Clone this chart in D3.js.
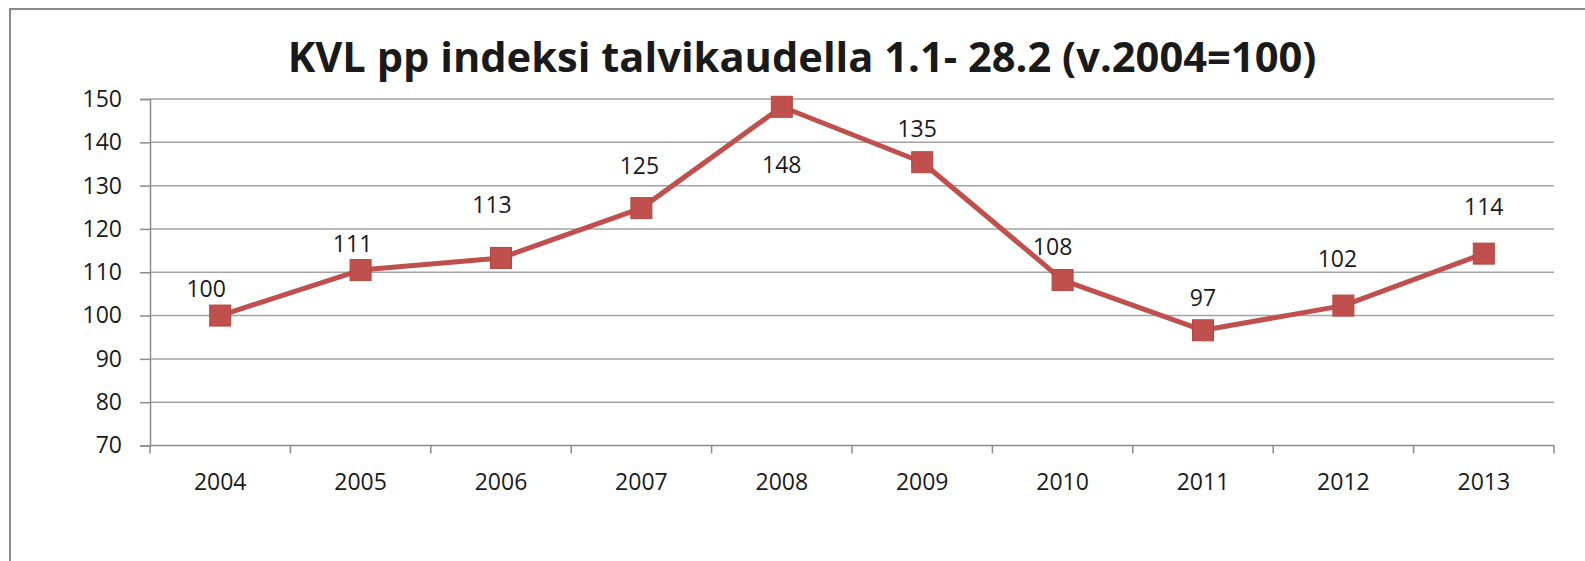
<!DOCTYPE html>
<meta charset="utf-8">
<style>
html,body{
  margin:0;
  background:#fff;
}
svg text{
  font-family:"Open Sans", sans-serif;
  fill:#1a1a1a;
}
.grid line{
  stroke:#a3a3a3;
  stroke-width:1.5px;
}
.axis line, .axis path{
  stroke:#8c8c8c;
  stroke-width:1.5px;
}
</style>
<script src="https://d3js.org/d3.v7.min.js"></script>
<body>
<script>

var years = ["2004","2005","2006","2007","2008","2009","2010","2011","2012","2013"];
var indexValues = [100, 110.5, 113.3, 124.8, 148.2, 135.4, 108.2, 96.6, 102.3, 114.3];
var valueLabels = ["100","111","113","125","148","135","108","97","102","114"];
var yTicks = [70, 80, 90, 100, 110, 120, 130, 140, 150];
// where each data label sits relative to its marker (hand placed in the original)
var labelDx = [-14, -8, -9, -2, 0, -5, -10, 0, -6, 0];
var labelDy = [-27, -26, -53, -42, 58, -33, -33, -32, -47, -47];
var title = "KVL pp indeksi talvikaudella 1.1- 28.2 (v.2004=100)";

var width = 1585, height = 561;

var svg = d3.select("body").append("svg")
    .attr("width", width)
    .attr("height", height);

// chart frame, runs off the right and bottom edges
svg.append("rect")
    .attr("x", 10).attr("y", 9)
    .attr("width", width + 20).attr("height", height + 20)
    .attr("fill", "#fff")
    .attr("stroke", "#8a8a8a")
    .attr("stroke-width", 2);

var x = d3.scaleBand()
    .domain(years)
    .range([150, 1554])
    .padding(0);

var y = d3.scaleLinear()
    .domain([70, 150])
    .range([445.5, 99]);

// horizontal gridlines
svg.append("g")
    .attr("class", "grid")
    .selectAll("line")
    .data(yTicks.filter(function(d){ return d > 70; }))
    .enter().append("line")
    .attr("x1", 150).attr("x2", 1554)
    .attr("y1", function(d){ return y(d); })
    .attr("y2", function(d){ return y(d); });

// y axis
var yAxis = svg.append("g")
    .attr("class", "axis")
    .attr("transform", "translate(150,0)")
    .call(d3.axisLeft(y).tickValues(yTicks).tickSize(10).tickPadding(18));
yAxis.selectAll("text")
    .style("font-size", "23px")
    .attr("fill", "#1a1a1a");

// x axis, ticks on the category boundaries
var xAxis = svg.append("g")
    .attr("class", "axis")
    .attr("transform", "translate(0," + y(70) + ")");
xAxis.append("line")
    .attr("x1", 150).attr("x2", 1554);
xAxis.selectAll(".tk")
    .data(d3.range(years.length + 1))
    .enter().append("line")
    .attr("class", "tk")
    .attr("x1", function(i){ return 150 + i * x.bandwidth(); })
    .attr("x2", function(i){ return 150 + i * x.bandwidth(); })
    .attr("y1", 0).attr("y2", 8);
xAxis.selectAll("text")
    .data(years)
    .enter().append("text")
    .attr("x", function(d){ return x(d) + x.bandwidth() / 2; })
    .attr("y", 36)
    .attr("dy", "0.35em")
    .attr("text-anchor", "middle")
    .style("font-size", "23px")
    .text(function(d){ return d; });

var pts = years.map(function(d, i){
  return [x(d) + x.bandwidth() / 2, y(indexValues[i])];
});

svg.append("path")
    .datum(pts)
    .attr("d", d3.line())
    .attr("fill", "none")
    .attr("stroke", "#c0504d")
    .attr("stroke-width", 5)
    .attr("stroke-linejoin", "round");

svg.selectAll(".marker")
    .data(pts)
    .enter().append("rect")
    .attr("class", "marker")
    .attr("x", function(d){ return d[0] - 10.5; })
    .attr("y", function(d){ return d[1] - 10.5; })
    .attr("width", 21).attr("height", 21)
    .attr("fill", "#c0504d")
    .attr("stroke", "#b5463f")
    .attr("stroke-width", 1);

svg.selectAll(".vlabel")
    .data(valueLabels)
    .enter().append("text")
    .attr("class", "vlabel")
    .attr("x", function(d, i){ return pts[i][0] + labelDx[i]; })
    .attr("y", function(d, i){ return pts[i][1] + labelDy[i]; })
    .attr("dy", "0.35em")
    .attr("text-anchor", "middle")
    .style("font-size", "23px")
    .text(function(d){ return d; });

var t = svg.append("text")
    .attr("x", 802)
    .attr("y", 72)
    .attr("text-anchor", "middle")
    .style("font-size", "40px")
    .style("font-weight", "bold")
    .attr("fill", "#000")
    .text(title);
// fit title to the width it has in the original
var w = t.node().getComputedTextLength();
t.style("font-size", (40 * 1029 / w) + "px");

</script>
</body>
</html>
